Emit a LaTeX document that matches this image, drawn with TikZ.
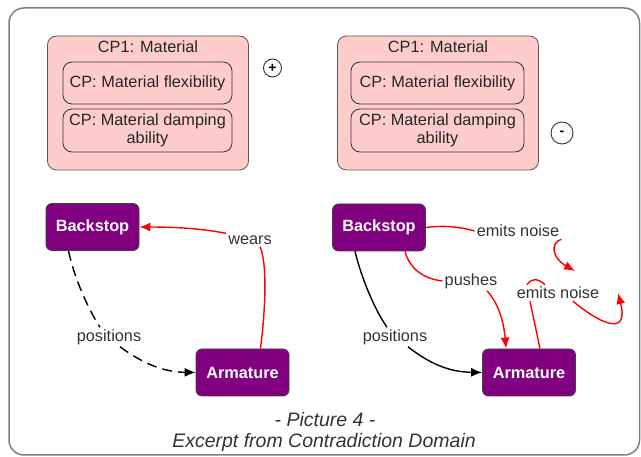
\documentclass[tikz,border=0pt]{standalone}
\usepackage{fontspec}
\setmainfont{Liberation Sans}
\usetikzlibrary{shapes,backgrounds}
\usetikzlibrary{arrows.meta}

\definecolor{cppink}{HTML}{FFCCCC}
\definecolor{conceptpurple}{HTML}{800080}
\definecolor{framegray}{HTML}{7F7F7F}
\definecolor{linkred}{HTML}{FF0000}
\definecolor{labelgray}{HTML}{333333}

\tikzset{
  concept/.style = {draw=black!75, fill=conceptpurple, rounded corners=6pt,
    line width=0.8pt, text=white, minimum width=93pt, minimum height=47pt,
    font=\fontsize{16.3}{19}\selectfont\bfseries},
  cpbox/.style = {draw=black!65, fill=cppink, rounded corners=9pt,
    line width=0.8pt, minimum width=201pt, minimum height=134pt},
  cpinner/.style = {draw=black!80, rounded corners=9pt, line width=0.8pt,
    align=center, inner sep=0pt, text=black!85,
    font=\fontsize{16.3}{18}\selectfont},
  cptitle/.style = {text=black!85, font=\fontsize{16.3}{18}\selectfont},
  linklabel/.style = {text=labelgray, inner sep=2pt,
    font=\fontsize{16.3}{18}\selectfont},
  redlink/.style = {draw=linkred, line width=1.4pt},
  blacklink/.style = {draw=black, line width=1.4pt},
  sign/.style = {draw=black!80, circle, inner sep=0pt, line width=0.9pt,
    font=\fontsize{14}{14}\selectfont\bfseries},
  caption/.style = {text=labelgray, font=\fontsize{19.5}{22}\selectfont\itshape}
}

\begin{document}
\begin{tikzpicture}[x=1pt, y=-1pt, >={Latex[length=11pt,width=9pt]}]
\useasboundingbox (0,0) rectangle (641,457);
% frame
\draw[framegray, line width=1.5pt, rounded corners=15pt] (9,8) rectangle (639.5,455);

% contradiction parameters, left
\node[cpbox] (cpl) at (148,103) {};
\node[cptitle] (cpltitle) at (148,47) {CP1: Material};
\node[cpinner, minimum width=169pt, minimum height=42pt] (cplflex) at (147.5,83) {CP: Material flexibility};
\node[cpinner, minimum width=169pt, minimum height=43pt] (cpldamp) at (147.5,130.5) {CP: Material damping\\ability};
\node[sign, minimum size=18pt] (plus) at (272.5,68) {+};

% contradiction parameters, right
\node[cpbox] (cpr) at (438,103) {};
\node[cptitle] (cprtitle) at (438,47) {CP1: Material};
\node[cpinner, minimum width=173pt, minimum height=42pt] (cprflex) at (437.5,83) {CP: Material flexibility};
\node[cpinner, minimum width=173pt, minimum height=43pt] (cprdamp) at (437.5,130.5) {CP: Material damping\\ability};
\node[sign, minimum size=22pt] (minus) at (562,133) {-};

% concepts
\node[concept] (bsl) at (92.5,227) {Backstop};
\node[concept] (arl) at (242.5,372.5) {Armature};
\node[concept] (bsr) at (379,227.5) {Backstop};
\node[concept] (arr) at (529,372.5) {Armature};

% link labels
\node[linklabel] (wears) at (250,240) {wears};
\node[linklabel] (posl) at (109,337) {positions};
\node[linklabel] (posr) at (395,337) {positions};
\node[linklabel] (pushes) at (471,281) {pushes};
\node[linklabel] (noise1) at (518,231) {emits noise};
\node[linklabel] (noise2) at (558,293) {emits noise};
\coordinate (noise1end) at (575,271);
\coordinate (noise2end) at (618,293);

% left links
\draw[redlink] ([xshift=18pt]arl.north) .. controls (266,305) and (267,262) .. ([xshift=10pt]wears.south);
\draw[redlink,->] (wears.north west) .. controls (200,228) and (170,227) .. (bsl.east);
\draw[blacklink, dash pattern=on 10pt off 6pt] ([xshift=-24pt]bsl.south) .. controls (76,285) and (92,315) .. ([xshift=-9pt]posl.north);
\draw[blacklink, dash pattern=on 10pt off 6pt, ->] ([xshift=11pt]posl.south) .. controls (145,365) and (165,372) .. (arl.west);

% right links
\draw[blacklink] ([xshift=-24pt]bsr.south) .. controls (362,280) and (375,310) .. ([xshift=-8pt]posr.north);
\draw[blacklink,->] ([xshift=13pt]posr.south) .. controls (435,368) and (455,372) .. (arr.west);
\draw[redlink] ([xshift=26pt]bsr.south) .. controls (410,270) and (425,279) .. (pushes.west);
\draw[redlink,->] ([xshift=16pt]pushes.south) .. controls (500,305) and (504,325) .. ([xshift=-23pt]arr.north);
\draw[redlink] (bsr.east) .. controls (445,225) and (460,227) .. (noise1.west);
\draw[redlink,->] (noise1.south east) .. controls (550,243) and (552,258) .. (noise1end);
\draw[redlink] ([xshift=11pt]arr.north) -- ([xshift=-28pt]noise2.south);
\draw[redlink] ([xshift=-31pt]noise2.north) .. controls (531,278) and (538,278) .. ([xshift=-13pt]noise2.north);
\draw[redlink,->] ([xshift=15pt]noise2.south) .. controls (595,320) and (630,340) .. (noise2end);

% caption
\node[caption] (cap1) at (325,420) {- Picture 4 -};
\node[caption] (cap2) at (324,442) {Excerpt from Contradiction Domain};
\end{tikzpicture}
\end{document}
